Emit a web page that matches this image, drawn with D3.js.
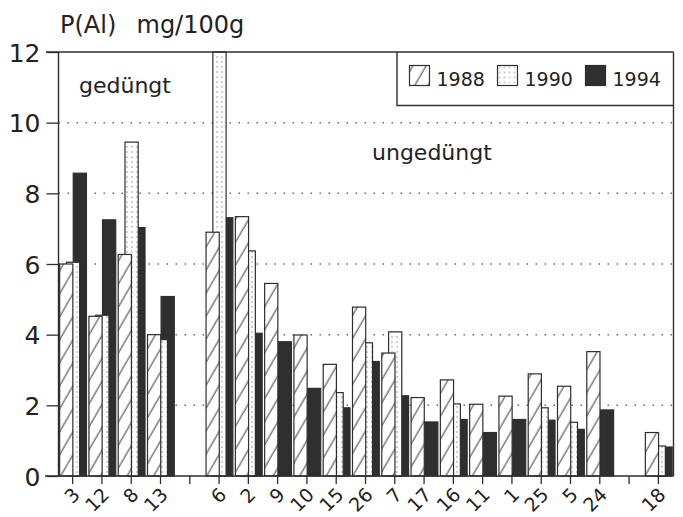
<!DOCTYPE html>
<html>
<head>
<meta charset="utf-8">
<script src="https://cdn.jsdelivr.net/npm/d3@7"></script>
<style>
  html, body { margin: 0; padding: 0; background: #fff; }
  svg { display: block; font-family: "DejaVu Sans", sans-serif; }
</style>
</head>
<body>
<svg id="chart" width="683" height="517"></svg>
<script>
// Site numbers along the x axis ("" marks an empty spacer slot)
const siteLabels = ["3","12","8","13","","6","2","9","10","15","26","7","17","16","11","1","25","5","24","","18"];
const years = ["1988","1990","1994"];
// P(Al) in mg/100g per site and year (null = not measured)
const v1988 = [6.0, 4.52, 6.27, 4.0, null, 6.9, 7.34, 5.45, 3.99, 3.16, 4.78, 3.48, 2.22, 2.72, 2.03, 2.26, 2.89, 2.54, 3.52, null, 1.23];
const v1990 = [6.05, 4.55, 9.45, 3.86, null, 12.0, 6.37, null, null, 2.36, 3.77, 4.08, null, 2.04, null, null, 1.93, 1.52, null, null, 0.85];
const v1994 = [8.57, 7.25, 7.03, 5.08, null, 7.31, 4.04, 3.8, 2.48, 1.93, 3.24, 2.27, 1.53, 1.6, 1.23, 1.6, 1.58, 1.32, 1.87, null, 0.82];
const yTicks = [0, 2, 4, 6, 8, 10, 12];
const gridTicks = [2, 4, 6, 8, 10];
const titleParts = ["P(Al)", "mg/100g"];
const groupLabels = ["gedüngt", "ungedüngt"];

const seriesValues = { "1988": v1988, "1990": v1990, "1994": v1994 };

const svg = d3.select("#chart");
const ink = "#2e2e2e";

const plotLeft = 58.5, plotRight = 673.5, plotTop = 52, plotBottom = 476;

const x = d3.scaleBand().domain(d3.range(siteLabels.length)).range([58, 673]).paddingInner(0).paddingOuter(0);
const y = d3.scaleLinear().domain([0, 12]).range([plotBottom, plotTop]);
const barW = 13.2;
const offset = d3.scalePoint().domain(years).range([-6.4, 7.2]);

// fill patterns
const defs = svg.append("defs");
const hatch = defs.append("pattern")
  .attr("id", "hatch").attr("patternUnits", "userSpaceOnUse")
  .attr("width", 11.5).attr("height", 12)
  .attr("patternTransform", "rotate(30)");
hatch.append("rect").attr("width", 11.5).attr("height", 12).attr("fill", "#fff");
hatch.append("line").attr("x1", 3).attr("x2", 3).attr("y1", 0).attr("y2", 12)
  .attr("stroke", "#3a3a3a").attr("stroke-width", 1);

const dots = defs.append("pattern")
  .attr("id", "dots").attr("patternUnits", "userSpaceOnUse")
  .attr("width", 5).attr("height", 5);
dots.append("rect").attr("width", 5).attr("height", 5).attr("fill", "#fff");
dots.append("circle").attr("cx", 2).attr("cy", 2).attr("r", 0.75).attr("fill", "#8a8a8a");

const fills = { "1988": "url(#hatch)", "1990": "url(#dots)", "1994": "#2f2f2f" };

// dotted grid lines
svg.append("g").selectAll("line").data(gridTicks).join("line")
  .attr("x1", plotLeft).attr("x2", plotRight)
  .attr("y1", d => y(d)).attr("y2", d => y(d))
  .attr("stroke", "#6a6a6a").attr("stroke-width", 1.5)
  .attr("stroke-dasharray", "1.5,7.5");

// bars: 1994 at the back, 1990 over it, 1988 in front
const drawOrder = ["1994", "1990", "1988"];
const barsG = svg.append("g");
drawOrder.forEach(yr => {
  const rows = seriesValues[yr]
    .map((v, i) => ({ i, v }))
    .filter(d => d.v != null);
  barsG.append("g").selectAll("rect").data(rows).join("rect")
    .attr("x", d => x(d.i) + x.bandwidth() / 2 + offset(yr) - barW / 2)
    .attr("width", barW)
    .attr("y", d => y(d.v))
    .attr("height", d => y(0) - y(d.v))
    .attr("fill", fills[yr])
    .attr("stroke", ink).attr("stroke-width", 1.2);
});

// frame: top line and right edge
svg.append("line").attr("x1", 46).attr("x2", plotRight).attr("y1", plotTop).attr("y2", plotTop)
  .attr("stroke", ink).attr("stroke-width", 1.4);
svg.append("line").attr("x1", plotRight).attr("x2", plotRight).attr("y1", plotTop).attr("y2", plotBottom)
  .attr("stroke", ink).attr("stroke-width", 1.4);

// y axis
const yAxis = svg.append("g").attr("transform", `translate(${plotLeft},0)`)
  .call(d3.axisLeft(y).tickValues(yTicks).tickSize(12).tickPadding(6).tickFormat(d3.format("d")));
yAxis.select(".domain").attr("stroke", ink).attr("stroke-width", 1.4)
  .attr("d", `M0,${plotTop}V${plotBottom}`);
yAxis.selectAll(".tick line").attr("stroke", ink).attr("stroke-width", 1.3);
yAxis.selectAll(".tick text").attr("font-size", 25).attr("fill", "#222")
  .attr("font-family", "DejaVu Sans").attr("dy", "0.36em");

// x axis
const xAxis = svg.append("g").attr("transform", `translate(0,${plotBottom})`)
  .call(d3.axisBottom(x).tickSize(8).tickFormat(i => siteLabels[i]));
xAxis.select(".domain").attr("stroke", ink).attr("stroke-width", 1.5)
  .attr("d", `M45,0H${plotRight}`);
xAxis.selectAll(".tick line").attr("stroke", ink).attr("stroke-width", 1.3);
xAxis.selectAll(".tick text")
  .attr("font-size", 19).attr("fill", "#222").attr("font-family", "DejaVu Sans")
  .attr("text-anchor", "end").attr("dy", null).attr("y", 0)
  .attr("transform", "translate(8.5,20) rotate(-45)");

// title
const title = svg.append("text").attr("x", 60).attr("y", 32.5)
  .attr("font-size", 24).attr("fill", "#222");
title.append("tspan").text(titleParts[0]);
title.append("tspan").attr("x", 136.5).text(titleParts[1]);

// group annotations
svg.append("text").attr("x", 79).attr("y", 93.3).attr("font-size", 22).attr("fill", "#222").text(groupLabels[0]);
svg.append("text").attr("x", 372).attr("y", 159.5).attr("font-size", 22).attr("fill", "#222").text(groupLabels[1]);

// legend
const legend = svg.append("g");
legend.append("path")
  .attr("d", `M397,${plotTop}V105.5H${plotRight}`)
  .attr("fill", "none").attr("stroke", ink).attr("stroke-width", 1.4);
const lx = d3.scalePoint().domain(years).range([409.5, 585.5]);
const item = legend.selectAll("g.item").data(years).join("g").attr("class", "item")
  .attr("transform", d => `translate(${lx(d)},65.5)`);
item.append("rect").attr("width", 20).attr("height", 20)
  .attr("fill", d => fills[d]).attr("stroke", ink).attr("stroke-width", 1.2);
item.append("text").attr("x", 27).attr("y", 20.5).attr("font-size", 19).attr("fill", "#222")
  .text(d => d);
</script>
</body>
</html>
